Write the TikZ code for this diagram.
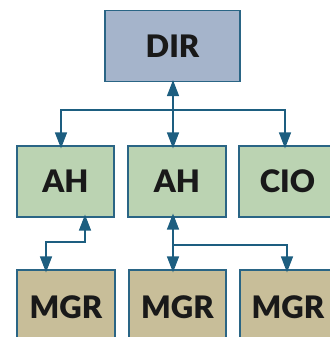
\documentclass[tikz,border=0pt]{standalone}
\usepackage{fontspec}
\setmainfont{Liberation Sans}
\newfontfamily\heavyfont{Lato Black}
\usetikzlibrary{arrows.meta}
\definecolor{dirfill}{HTML}{A5B4CB}
\definecolor{ahfill}{HTML}{BBD3B2}
\definecolor{mgrfill}{HTML}{C8BE99}
\definecolor{edge}{HTML}{2A6585}
\definecolor{arrowc}{HTML}{1D5E80}
\tikzset{
  box/.style={draw=edge, line width=1.2pt, inner sep=0pt, font=\heavyfont\fontsize{31}{32}\selectfont, text=black!90},
  tip/.tip={Triangle[width=12pt,length=16pt]},
  conn/.style={draw=arrowc, line width=1.4pt, -tip},
  conn2/.style={draw=arrowc, line width=1.4pt, tip-tip}
}
\begin{document}
\begin{tikzpicture}[x=1pt,y=-1pt]
\useasboundingbox (0,0) rectangle (329,337);
\node[box, fill=dirfill, minimum width=135pt, minimum height=71pt] (dir) at (172.5,46) {DIR};
\node[box, fill=ahfill, minimum width=97pt, minimum height=71pt] (ah1) at (65.5,181.5) {AH};
\node[box, fill=ahfill, minimum width=98pt, minimum height=71pt] (ah2) at (177,181.5) {AH};
\node[box, fill=ahfill, minimum width=97pt, minimum height=71pt] (cio) at (287.5,181.5) {CIO};
\node[box, fill=mgrfill, minimum width=98pt, minimum height=75pt] (m1) at (66,307.5) {MGR};
\node[box, fill=mgrfill, minimum width=97pt, minimum height=75pt] (m2) at (177.5,307.5) {MGR};
\node[box, fill=mgrfill, minimum width=96pt, minimum height=75pt] (m3) at (288,307.5) {MGR};
% top connectors
\coordinate (bar) at (173,110);
\draw[conn2] ([yshift=2]dir.south -| bar) -- ([yshift=-3]ah2.north -| bar);
\draw[conn] (bar) -| ([yshift=-3]ah1.north -| 61,0);
\draw[conn] (bar) -| ([yshift=-3]cio.north -| 285,0);
% lower left
\coordinate (l1) at (85,242);
\draw[conn2] ([yshift=3]ah1.south -| l1) |- (l1) -| ([yshift=-3]m1.north -| 46,0);
% lower middle
\coordinate (l2) at (173,245);
\draw[conn2] ([yshift=4]ah2.south -| l2) -- ([yshift=-3]m2.north -| l2);
\draw[conn] (l2) -| ([yshift=-3]m3.north -| 287,0);
\end{tikzpicture}
\end{document}
